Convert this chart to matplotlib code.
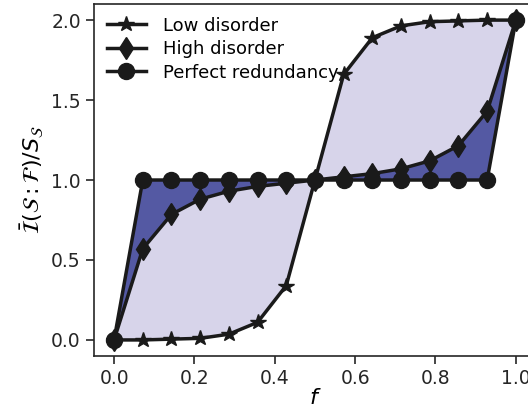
import numpy as np
import matplotlib
matplotlib.use("Agg")
import matplotlib.pyplot as plt

# fraction of fragment
f = np.array([0, 1, 2, 3, 4, 5, 6, 7, 8, 9, 10, 11, 12, 13, 14]) / 14.0

low_disorder = [0.0, 0.0, 0.005, 0.01, 0.036, 0.11, 0.34, 1.0,
                1.66, 1.89, 1.964, 1.99, 1.995, 2.0, 2.0]
high_disorder = [0.0, 0.57, 0.785, 0.88, 0.93, 0.96, 0.98, 1.0,
                 1.02, 1.04, 1.07, 1.12, 1.215, 1.43, 2.0]
perfect = [0.0, 1, 1, 1, 1, 1, 1, 1, 1, 1, 1, 1, 1, 1, 2.0]

light = "#d7d4ea"
dark = "#5459a3"

plt.rcParams['font.family'] = 'DejaVu Sans'
plt.rcParams['mathtext.fontset'] = 'dejavusans'

fig = plt.figure(figsize=(5.28, 4.11), dpi=100)
ax = fig.add_axes([0.178, 0.134, 0.837, 0.856])

ax.fill_between(f, low_disorder, high_disorder, color=light, lw=0, zorder=1)
ax.fill_between(f, high_disorder, perfect, color=dark, lw=0, zorder=1)

ax.plot(f, low_disorder, '-*', color='#1a1a1a', lw=2.5, ms=11.5, label='Low disorder', zorder=3)
ax.plot(f, high_disorder, '-d', color='#1a1a1a', lw=2.5, ms=11.5, label='High disorder', zorder=3)
ax.plot(f, perfect, '-o', color='#1a1a1a', lw=2.5, ms=11.5, label='Perfect redundancy', zorder=4)

ax.set_xlim(-0.05, 1.05)
ax.set_ylim(-0.1, 2.1)
ax.set_xticks([0.0, 0.2, 0.4, 0.6, 0.8, 1.0])
ax.set_yticks([0.0, 0.5, 1.0, 1.5, 2.0])
ax.tick_params(direction='out', length=6, width=1.2, labelsize=13.5, colors='#262626')
for s in ax.spines.values():
    s.set_linewidth(1.2)
    s.set_color('#262626')

ax.set_xlabel(r'$f$', fontsize=16, labelpad=0)
ax.set_ylabel(r'$\bar{\mathcal{I}}(\mathcal{S}:\mathcal{F})/S_\mathcal{S}$', fontsize=16)

ax.legend(loc='upper left', frameon=False, fontsize=13, handlelength=2.2,
          borderaxespad=0.3, labelspacing=0.3, handletextpad=0.9)

fig.savefig("out.png", dpi=100)
